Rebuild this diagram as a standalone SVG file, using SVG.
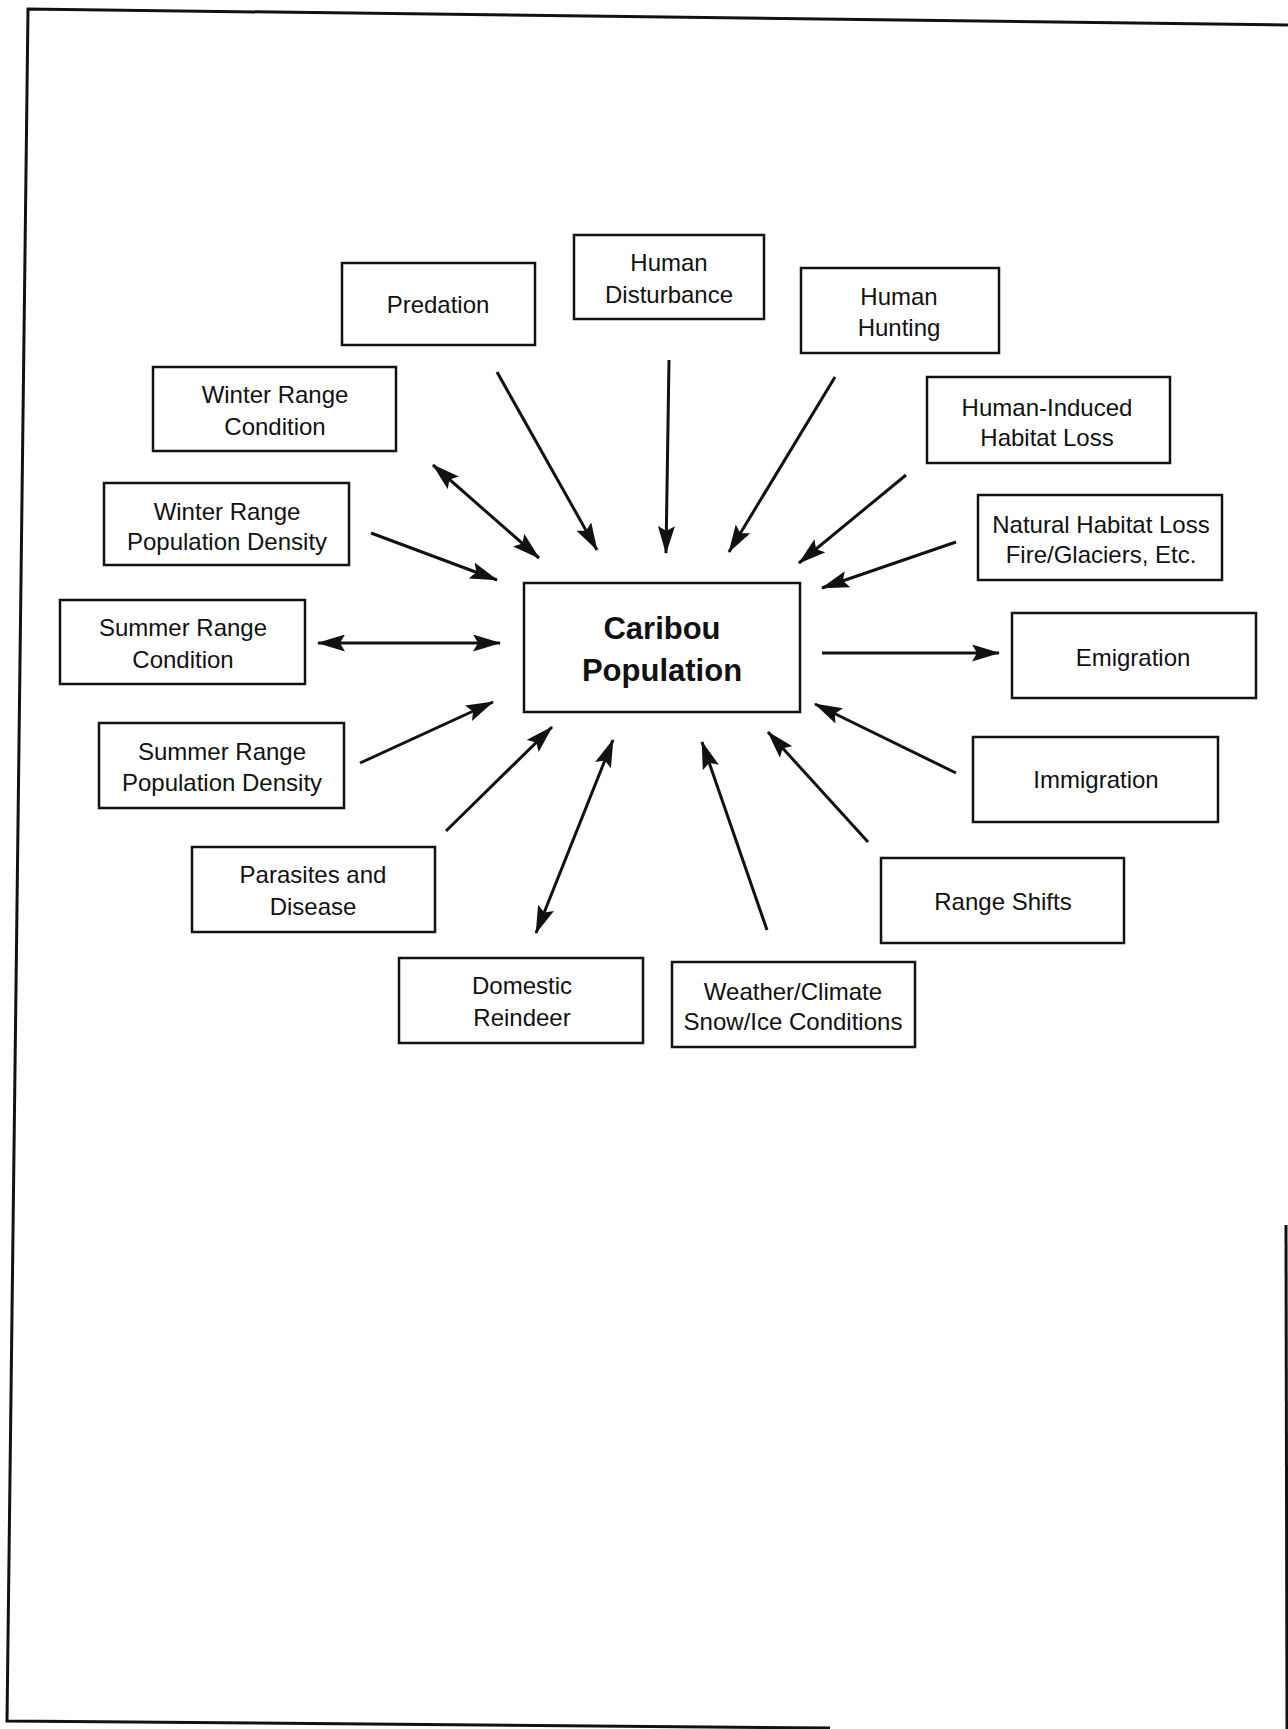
<svg xmlns="http://www.w3.org/2000/svg" width="1288" height="1729" viewBox="0 0 1288 1729">
<defs>
<marker id="ah" markerUnits="userSpaceOnUse" markerWidth="28" markerHeight="17" viewBox="0 0 28 17" refX="27" refY="8.5" orient="auto-start-reverse">
<path d="M0,0 L28,8.5 L0,17 L5,8.5 Z" fill="#111"/>
</marker>
</defs>
<style>
.box{fill:#fff;stroke:#111;stroke-width:2.5}
.t{font-family:"Liberation Sans",Arial,sans-serif;font-size:24px;fill:#111;text-anchor:middle}
.tb{font-family:"Liberation Sans",Arial,sans-serif;font-size:31px;font-weight:bold;fill:#111;text-anchor:middle}
.c{stroke:#111;stroke-width:3;fill:none;marker-end:url(#ah)}
.d{marker-start:url(#ah)}
.frame{stroke:#111;stroke-width:3;fill:none}
</style>
<rect width="1288" height="1729" fill="#fff"/>
<g id="page-frame">
<path class="frame" d="M1288,25 L28,9 L7,1721 L830,1728"/>
<path class="frame" d="M1286,1225 L1287,1729"/>
</g>
<g id="connectors">
<line class="c" x1="497" y1="372" x2="597" y2="550"/>
<line class="c" x1="669" y1="360" x2="666" y2="553"/>
<line class="c" x1="835" y1="377" x2="729" y2="552"/>
<line class="c" x1="906" y1="475" x2="799" y2="563"/>
<line class="c" x1="956" y1="542" x2="822" y2="588"/>
<line class="c d" x1="433" y1="465" x2="539" y2="558"/>
<line class="c" x1="371" y1="533" x2="497" y2="580"/>
<line class="c d" x1="318" y1="643" x2="500" y2="643"/>
<line class="c" x1="360" y1="763" x2="493" y2="702"/>
<line class="c" x1="446" y1="831" x2="552" y2="727"/>
<line class="c d" x1="536" y1="933" x2="613" y2="740"/>
<line class="c" x1="767" y1="930" x2="702" y2="742"/>
<line class="c" x1="868" y1="842" x2="768" y2="732"/>
<line class="c" x1="956" y1="773" x2="815" y2="704"/>
<line class="c" x1="822" y1="653" x2="999" y2="653"/>
</g>
<g id="caribou-population">
<rect class="box" x="524" y="583" width="276" height="129"/>
<text class="tb" x="662" y="639">Caribou</text>
<text class="tb" x="662" y="681">Population</text>
</g>
<g id="predation">
<rect class="box" x="342" y="263" width="193" height="82"/>
<text class="t" x="438" y="313">Predation</text>
</g>
<g id="human-disturbance">
<rect class="box" x="574" y="235" width="190" height="84"/>
<text class="t" x="669" y="271">Human</text>
<text class="t" x="669" y="303">Disturbance</text>
</g>
<g id="human-hunting">
<rect class="box" x="801" y="268" width="198" height="85"/>
<text class="t" x="899" y="305">Human</text>
<text class="t" x="899" y="336">Hunting</text>
</g>
<g id="human-induced-habitat-loss">
<rect class="box" x="927" y="377" width="243" height="86"/>
<text class="t" x="1047" y="416">Human-Induced</text>
<text class="t" x="1047" y="446">Habitat Loss</text>
</g>
<g id="natural-habitat-loss">
<rect class="box" x="978" y="495" width="244" height="85"/>
<text class="t" x="1101" y="533">Natural Habitat Loss</text>
<text class="t" x="1101" y="563">Fire/Glaciers, Etc.</text>
</g>
<g id="emigration">
<rect class="box" x="1012" y="613" width="244" height="85"/>
<text class="t" x="1133" y="666">Emigration</text>
</g>
<g id="immigration">
<rect class="box" x="973" y="737" width="245" height="85"/>
<text class="t" x="1096" y="788">Immigration</text>
</g>
<g id="range-shifts">
<rect class="box" x="881" y="858" width="243" height="85"/>
<text class="t" x="1003" y="910">Range Shifts</text>
</g>
<g id="weather-climate">
<rect class="box" x="672" y="962" width="243" height="85"/>
<text class="t" x="793" y="1000">Weather/Climate</text>
<text class="t" x="793" y="1030">Snow/Ice Conditions</text>
</g>
<g id="domestic-reindeer">
<rect class="box" x="399" y="958" width="244" height="85"/>
<text class="t" x="522" y="994">Domestic</text>
<text class="t" x="522" y="1026">Reindeer</text>
</g>
<g id="parasites-disease">
<rect class="box" x="192" y="847" width="243" height="85"/>
<text class="t" x="313" y="883">Parasites and</text>
<text class="t" x="313" y="915">Disease</text>
</g>
<g id="summer-range-population-density">
<rect class="box" x="99" y="723" width="245" height="85"/>
<text class="t" x="222" y="760">Summer Range</text>
<text class="t" x="222" y="791">Population Density</text>
</g>
<g id="summer-range-condition">
<rect class="box" x="60" y="600" width="245" height="84"/>
<text class="t" x="183" y="636">Summer Range</text>
<text class="t" x="183" y="668">Condition</text>
</g>
<g id="winter-range-population-density">
<rect class="box" x="104" y="483" width="245" height="82"/>
<text class="t" x="227" y="520">Winter Range</text>
<text class="t" x="227" y="550">Population Density</text>
</g>
<g id="winter-range-condition">
<rect class="box" x="153" y="367" width="243" height="84"/>
<text class="t" x="275" y="403">Winter Range</text>
<text class="t" x="275" y="435">Condition</text>
</g>
</svg>
